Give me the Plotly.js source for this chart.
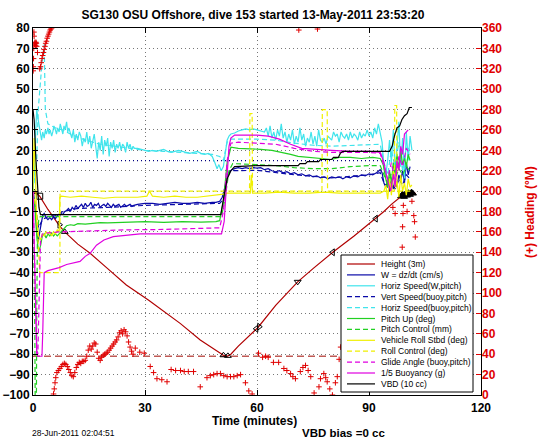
<!DOCTYPE html>
<html><head><meta charset="utf-8">
<script src="https://cdn.plot.ly/plotly-3.0.1.min.js"></script>
<style>html,body{margin:0;padding:0;background:#fff}#chart{width:546px;height:442px}</style>
</head><body><div id="chart"></div>
<script>
// ---------------- DATA (minutes vs value) ----------------
const xTicks = [0, 30, 60, 90, 120];
const legendNames = ['Height (3m)', 'W = dz/dt (cm/s)', 'Horiz Speed(W,pitch)', 'Vert Speed(buoy,pitch)',
  'Horiz Speed(buoy,pitch)', 'Pitch Up (deg)', 'Pitch Control (mm)', 'Vehicle Roll Stbd (deg)',
  'Roll Control (deg)', 'Glide Angle (buoy,pitch)', '1/5 Buoyancy (g)', 'VBD (10 cc)'];

const heightX = [0, 0.5, 1.8, 4, 7.1, 8.5, 12, 15.3, 20, 25, 30.9, 35, 39.5, 44.8, 48, 51, 52, 53, 55, 57.5, 60.2, 65, 70.9, 75, 80.3, 86, 91.8, 94, 96, 98, 99.5, 101, 102.5];
const heightY = [0, -0.5, -2.5, -9, -17, -20, -26, -30.5, -38, -46, -53.4, -59, -65, -73, -77, -80.5, -81, -80, -76, -71.5, -67, -56, -44.5, -38, -30, -22, -13.5, -10, -6.5, -3.5, -2.5, -1.5, -1];

const gcX = [0.3, 1.8, 7.1, 8.5, 51.0, 52.2, 59.8, 60.6, 70.9, 80.3, 91.8, 98.6, 99.0, 99.4, 99.8, 100.2, 100.6, 101.0, 101.4, 101.8];
const gcY = [-0.5, -2.5, -16.5, -20, -80.5, -80.8, -67.5, -66.5, -44.5, -30, -13.5, -2.5, -1.5, -2.8, -1.2, -2.2, -0.8, -1.8, -0.5, -1.2];

const wX = [0, 0.5, 1.0, 1.4, 1.8, 2.2, 2.6, 3.0, 3.5, 4.0,
  4.5, 5.0, 5.5, 6.0, 6.5, 7.0, 7.5, 8.0, 8.5, 9.0,
  9.5, 10, 10.5, 11, 11.5, 12, 12.5, 13, 13.5, 14,
  14.5, 15, 15.5, 16, 16.5, 17, 17.5, 18, 18.5, 19,
  19.5, 20, 20.5, 21, 21.5, 22, 22.5, 23, 23.5, 24,
  24.5, 25, 25.5, 26, 26.5, 27, 28, 30, 32, 34,
  36, 38, 40, 42, 44, 46, 48, 49, 50, 50.7,
  51.4, 52, 52.6, 53.3, 54, 55, 56, 57, 58, 59,
  60, 61, 62, 63, 64, 65, 66, 67, 68, 69,
  70, 71, 72, 73, 74, 75, 76, 77, 78, 79,
  80, 81, 82, 83, 84, 85, 86, 87, 88, 89,
  90, 91, 92, 93, 93.5, 94, 94.5, 95, 95.5, 96,
  96.5, 97, 97.5, 98, 98.5, 99, 99.5, 100, 100.5, 101];
const wY = [0, -6, -18, -25, -20, -15, -12, -11, -13, -14,
  -13, -14, -12.5, -13.5, -12, -12.5, -11, -11.5, -10, -9.5,
  -8.5, -10, -8, -9, -7, -8.5, -7.5, -6.5, -8, -6,
  -7.5, -7, -5.5, -8, -6.5, -7, -6, -8, -7, -6.5,
  -7.5, -6, -7, -8, -6.5, -7.5, -7, -6.5, -8, -7,
  -6.5, -7.5, -7, -6.5, -7.5, -7, -6.5, -6, -6, -6.5,
  -6, -5.5, -6, -6, -5.5, -6, -5.5, -5.5, -5, -3,
  2, 7, 9.5, 10.5, 11, 11.5, 11, 11.5, 11, 11.5,
  11.3, 11.5, 10.5, 11, 10, 9.5, 10, 9, 9.5, 8.5,
  9, 8, 8.5, 7.5, 8, 7, 7.5, 6.5, 7, 6,
  7, 6.5, 7, 6, 7, 6.5, 7.5, 7, 8, 7.5,
  8.5, 8, 9, 10.5, 9, 4, 2, 5, 0, 4,
  1, 6, 2, 8, 5, 10, 4, 14, 8, 12];

const hsWX = [0, 0.4, 0.7, 1.0, 1.3, 1.6, 2.0, 2.3, 2.6, 3.0,
  3.3, 3.6, 4.0, 4.3, 4.6, 5.0, 5.3, 5.6, 6.0, 6.3,
  6.6, 7.0, 7.3, 7.6, 8.0, 8.3, 8.6, 9.0, 9.3, 9.6,
  10.0, 10.4, 10.8, 11.2, 11.6, 12.0, 12.4, 12.8, 13.2, 13.6,
  14.0, 14.4, 14.8, 15.2, 15.6, 16.0, 16.4, 16.8, 17.2, 17.6,
  18.0, 18.4, 18.8, 19.2, 19.6, 20.0, 20.4, 20.8, 21.2, 21.6,
  22.0, 22.4, 22.8, 23.2, 23.6, 24.0, 24.4, 24.8, 25.2, 25.6,
  26.0, 26.4, 26.8, 27.2, 28, 29, 30, 31, 32, 33,
  34, 35, 36, 37, 38, 39, 40, 41, 42, 43,
  44, 45, 46, 47, 48, 48.7, 49.3, 49.8, 50.4, 51,
  51.5, 52, 52.5, 53, 54, 55, 56, 57, 58, 59,
  60, 61, 62, 62.5, 63, 63.5, 64, 64.5, 65, 65.5,
  66, 66.5, 67, 67.5, 68, 68.5, 69, 69.5, 70, 70.5,
  71, 71.5, 72, 72.5, 73, 73.5, 74, 74.5, 75, 75.5,
  76, 76.5, 77, 77.5, 78, 78.5, 79, 79.5, 80, 80.5,
  81, 81.5, 82, 82.5, 83, 83.5, 84, 84.5, 85, 85.5,
  86, 86.5, 87, 87.5, 88, 88.5, 89, 89.5, 90, 90.5,
  91, 91.5, 92, 92.5, 93, 93.5, 94, 94.5, 95, 95.5,
  96, 96.5, 97, 97.5, 98, 98.5, 99, 99.5, 100, 100.5,
  101, 101.5];
const hsWY = [0, 10, 28, 40, 36, 33, 27, 25, 29, 26,
  30, 28, 31, 28, 30, 27, 29, 32, 30, 28,
  31, 29, 33, 30, 28, 32, 30, 34, 29, 31,
  28, 26, 30, 24, 28, 25, 29, 27, 22, 26,
  24, 29, 23, 27, 21, 25, 28, 22, 16, 24,
  20, 27, 18, 25, 22, 26, 17, 24, 21, 25,
  19, 23, 21, 24, 20, 23, 22, 19, 24, 21,
  23, 20, 22, 21, 21, 20.5, 20, 19.5, 20, 19.5,
  20, 20.5, 19.5, 19, 19.5, 20, 19.5, 19, 18.5, 19,
  19.5, 18.5, 18, 18.5, 17, 14, 11, 13, 10, 12,
  19, 25, 27, 28, 28.5, 29.5, 30, 30.5, 30, 30.5,
  30, 29.5, 29, 31, 27, 32, 26, 29, 25, 30,
  27, 33, 26, 29, 24, 28, 25, 30, 23, 27,
  24, 31, 25, 28, 22, 26, 24, 29, 23, 27,
  22, 30, 25, 24, 26, 23, 27, 26, 25, 29,
  27, 28, 24, 29, 27, 26, 28, 25, 29, 26,
  28, 27, 25, 29, 26, 28, 27, 30, 27, 29,
  26, 31, 28, 33, 29, 24, 12, 8, 15, 25,
  14, 30, 10, 22, 34, 12, 26, 5, 29, 15,
  27, 20];

const vsX = [0, 0.8, 1.5, 2.5, 4, 6, 8, 12, 20, 30, 40, 50, 51, 52, 53, 60, 70, 80, 90, 93, 94, 95, 96, 97, 98, 99, 100, 101];
const vsY = [0, -10, -18, -14, -12.5, -12, -10, -8.5, -8, -7, -6.5, -6, -4, 8, 10, 10.2, 8, 6.5, 8, 9, 4, 2, 5, 1, 6, 3, 8, 6];

const hbX = [0, 1, 1.4, 2, 2.5, 3, 3.3, 4, 6, 8, 10, 14, 18, 22, 26, 30, 35, 40, 45, 48, 50, 51, 52, 53, 60, 65, 70, 75, 80, 85, 90, 93, 94, 95, 96, 97, 98, 99, 100, 101];
const hbY = [0, 15, 40, 55, 65, 72, 40, 33, 31, 30, 28, 25, 23, 22, 21, 20, 19.5, 19, 18.5, 18, 17, 15, 24, 25.5, 25.5, 25, 23.5, 22.5, 22, 22.5, 23, 23, 14, 8, 20, 12, 24, 10, 22, 20];

const pitchX = [0, 0.5, 1.0, 1.5, 2.0, 2.5, 3.0, 3.5, 4.0, 4.5, 5.0, 5.5, 6.0, 6.5, 7.0, 7.5, 8.0, 8.5, 9.0, 10, 11, 12, 14, 16, 18, 20, 25, 30, 35, 40, 45, 49, 50, 51, 52, 53, 55, 58, 61, 64, 67, 69, 71, 74, 77, 80, 82, 85, 88, 91, 93, 93.8, 94.5, 95, 95.5, 96, 96.5, 97, 97.5, 98, 98.5, 99, 99.5, 100, 100.5, 101];
const pitchY = [0, -8, -22, -30, -27, -22, -21, -23, -21, -22, -20.5, -22, -21, -22, -21, -20, -19, -18, -17, -16.5, -16.8, -16, -16.2, -15.8, -15.5, -15.6, -15.2, -15, -15.3, -15, -15.2, -15, -14.5, -5, 14, 21.5, 21, 20.8, 20.5, 20, 19, 18, 17, 16.5, 16, 15.5, 16.5, 16.5, 16, 16.5, 16, 13, 6, 2, 10, 4, 14, 8, 18, 11, 20, 13, 16, 12, 18, 15];

const pcX = [0, 0.3, 0.5, 0.6, 0.9, 1.0, 1.2, 1.6, 2.0, 50.5, 51.5, 52.5, 53.5, 60, 65, 70, 75, 80, 85, 90, 93, 94, 95, 96, 97, 98, 99, 100, 101];
const pcY = [0, -30, -70, -110, -110, -60, -20, -13, -12.5, -12.5, -3, 10, 13.5, 13, 12.5, 11.5, 11, 11, 12, 12.5, 12.5, 8, 4, 9, 6, 11, 8, 12, 10];

const rollX = [0, 0.3, 0.6, 1.0, 1.5, 2.0, 2.5, 3.0, 3.5, 4.0, 4.5, 5.0, 5.5, 6.0, 6.5, 7.0, 7.2, 7.6, 10, 13, 16, 19, 22, 25, 28, 30.5, 31.2, 32, 35, 38, 41, 44, 47, 50, 51, 52, 55, 58.2, 58.5, 58.8, 62, 66, 70, 74, 78, 82, 86, 90, 93, 94, 94.5, 95, 95.5, 96, 96.5, 97, 97.5, 98, 98.5, 99, 99.5, 100, 100.5, 101, 101.5];
const rollY = [0, 26, 12, -15, -22, -24, -21, -22, -20, -21, -20, -22, -20, -21, -19, -20, -3, -2.5, -3, -2.5, -3, -3.5, -3, -3, -3, -2.5, 0, -2.5, -3, -2.5, -3, -3, -2.5, -2, -1.5, -1, -1, -1, 8, -1, -1, -0.5, -1, -1, -0.5, -1, -1, -1, -1, 0, 3, -4, 6, -2, 10, 2, 5, -3, 8, 0, 4, -2, 6, 2, 3];

const rcX = [0, 1.0, 1.8, 7.2, 7.25, 58.0, 58.1, 58.7, 58.8, 77.4, 77.5, 78.8, 78.9, 96.8, 96.9, 97.4, 97.5, 101.5];
const rcY = [0, -10, -40, -40, 0, 0, 38, 38, 0, 0, 40, 40, 0, 0, 42, 42, 0, 0];

const glX = [0, 0.5, 1.0, 1.3, 1.6, 2.0, 2.5, 4, 7, 15, 25, 35, 45, 50, 51, 52, 53, 55, 60, 65, 70, 75, 80, 85, 90, 93, 94, 95, 96, 97, 98, 99, 100, 101];
const glY = [0, -40, -78, -80, -50, -25, -21, -20.5, -20, -19.5, -19, -18.8, -18.5, -18, -10, 15, 23.5, 24, 23.5, 23, 21, 19.5, 19, 19, 19, 18.5, 12, 6, 14, 4, 17, 12, 21, 18];

const buX = [0, 0.5, 1.0, 1.3, 2.4, 2.6, 2.8, 3.0, 4, 5, 7, 9, 11, 12.6, 14, 15.3, 17, 19, 21.5, 25, 28.7, 35, 45, 50.5, 51.2, 52, 52.5, 53, 54, 60, 63, 66, 69, 72, 75, 80, 85, 90, 93, 94, 95, 95.8, 96.5, 97, 97.5, 98, 98.5, 99, 99.5, 100, 100.5];
const buY = [0, -40, -80, -81, -81, -70, -45, -40, -39, -38.5, -37.5, -36, -35, -34.5, -32, -30.5, -26.5, -24, -22.3, -21.5, -21, -21, -21, -21, -15, 10, 22, 26, 27.5, 27.5, 27, 25.5, 23, 21, 20.5, 20, 19.5, 19.5, 19, 14, 5, 0, 8, 2, 15, 10, 22, 18, 28, 29, 30];

const vbdX = [0, 0.3, 0.8, 1.2, 1.6, 2.0, 50.3, 51, 52, 53, 54, 60, 71, 71.5, 73, 73.5, 76.5, 77, 80, 80.5, 81.8, 82.3, 83, 95.5, 96.2, 96.8, 97.5, 98.2, 98.8, 99.5, 100.2, 100.8, 101.5];
const vbdY = [40, 35, 15, 2, -8, -11.5, -11.5, -4, 6, 10, 12, 12.5, 12.5, 13.5, 13.5, 14.5, 14.5, 15.5, 15.5, 16.5, 16.5, 18.5, 19.5, 19.5, 22, 27, 31, 32, 35, 37, 38, 41, 41];

const bottomX = [0, 100];
const bottomY = [-81, -81];
const refX = [0, 97];
const refY = [15, 15];

// heading (degrees magnetic, right axis)
const headX = [0.05, 0.1, 0.15, 0.2, 0.25, 0.3, 0.4, 0.5, 0.6, 0.7,
  0.8, 0.9, 1.0, 1.2, 1.8, 2.0, 2.2, 2.4, 2.6, 2.8,
  3.0, 3.2, 3.4, 3.6, 3.8, 4.0, 4.2, 4.4, 4.6, 4.8,
  5.0, 5.5, 5.7, 5.9, 6.1, 6.4, 6.8, 7.2, 7.6, 8.0,
  8.4, 8.8, 9.2, 9.6, 10.0, 10.4, 10.8, 11.2, 11.6, 12.0,
  12.4, 12.8, 13.2, 13.6, 14.0, 14.4, 14.8, 15.2, 15.6, 16.0,
  16.4, 16.8, 17.2, 17.6, 18.0, 18.4, 18.8, 19.2, 19.6, 20.0,
  20.4, 20.8, 21.2, 21.6, 22.0, 22.4, 22.8, 23.2, 23.6, 24.0,
  24.4, 24.8, 25.2, 25.6, 26.0, 26.4, 26.8, 27.4, 28.6, 29.8,
  31.4, 32.3, 33.2, 34.5, 35.9, 37.0, 38.2, 39.5, 40.5, 41.6,
  43.0, 44.8, 46.6, 47.5, 48.4, 49.3, 50.2, 51.1, 52.0, 52.9,
  53.8, 54.7, 55.6, 56.9, 57.8, 58.7, 60.4, 61.5, 62.3, 63.0,
  64.4, 65.8, 67.2, 68.0, 69.0, 69.6, 70.3, 71.2, 71.6, 72.3,
  73.0, 73.7, 74.4, 75.3, 76.2, 76.6, 77.0, 77.9, 78.4, 78.8,
  79.5, 80.2, 81.0, 81.5, 82.0, 82.4, 83.3, 84.2, 85.1, 86.0,
  87.0, 88.0, 89.0, 90.0, 91.0, 92.0, 93.0, 94.0, 95.0, 96.4,
  97.0, 98.9, 99.0, 99.1, 99.2, 100.2, 101.5, 102.0, 102.2, 102.4];
const headY = [318, 322, 330, 340, 356, 352, 344, 346, 345, 343,
  346, 345, 342, 336, 320, 322, 326, 330, 333, 336,
  339, 342, 345, 347, 350, 352, 354, 356, 358, 359,
  360, 1, 6, 12, 17, 22, 24, 26, 28, 30,
  31, 30, 28, 25, 22, 19, 18, 22, 27, 30,
  32, 31, 33, 33, 34, 38, 44, 48, 45, 48,
  51, 50, 42, 36, 34, 37, 39, 40, 41, 42,
  44, 46, 48, 50, 52, 54, 57, 61, 63, 60,
  64, 62, 58, 52, 47, 43, 40, 46, 42, 41,
  28, 22, 16, 15, 13, 25, 24, 24, 23, 23,
  23, 8, 17, 19, 20, 21, 21, 19, 18, 18,
  18, 19, 20, 12, 4, 1, 41, 37, 38, 37,
  32, 32, 26, 24, 21, 18, 16, 358, 23, 27,
  29, 24, 18, 2, 359, 8, 16, 21, 17, 13,
  6, 0, 12, 18, 35, 47, 46, 34, 25, 23,
  30, 35, 28, 22, 25, 30, 28, 35, 40, 184,
  178, 145, 165, 178, 186, 180, 190, 176, 170, 155];

// ---------------- STYLE ----------------
const FONT = '"Liberation Sans", Arial, Helvetica, sans-serif';
const RED = '#e00000';
const styles = [
  {color: '#b00000', dash: 'solid'},
  {color: '#0a0aa8', dash: 'solid'},
  {color: '#40e4ec', dash: 'solid'},
  {color: '#0a0aa8', dash: '5px,3px'},
  {color: '#40e4ec', dash: '5px,3px'},
  {color: '#22d022', dash: 'solid'},
  {color: '#22d022', dash: '5px,3px'},
  {color: '#f0f000', dash: 'solid'},
  {color: '#f0f000', dash: '5px,3px'},
  {color: '#e000e0', dash: '5px,3px'},
  {color: '#e000e0', dash: 'solid'},
  {color: '#000000', dash: 'solid'}
];
const seriesData = [
  [heightX, heightY], [wX, wY], [hsWX, hsWY], [vsX, vsY], [hbX, hbY], [pitchX, pitchY],
  [pcX, pcY], [rollX, rollY], [rcX, rcY], [glX, glY], [buX, buY], [vbdX, vbdY]
];
const gcSymbols = ['triangle-up-open', 'square-open', 'triangle-right-open', 'triangle-up-open',
  'triangle-up-open', 'triangle-up-open', 'triangle-left-open', 'triangle-right-open', 'triangle-down-open',
  'triangle-left-open', 'triangle-left-open', 'triangle-up', 'triangle-up', 'triangle-up', 'triangle-up',
  'triangle-up', 'triangle-up', 'triangle-up', 'triangle-up', 'triangle-up'];

const traces = [];
traces.push({x: bottomX, y: bottomY, mode: 'lines', line: {color: '#c05a55', width: 1.6, dash: '7px,4px'}, hoverinfo: 'skip'});
traces.push({x: refX, y: refY, mode: 'lines', line: {color: '#000080', width: 1.2, dash: '1px,3px'}, hoverinfo: 'skip'});
seriesData.forEach((d, i) => {
  traces.push({x: d[0], y: d[1], name: legendNames[i], mode: 'lines',
    line: {color: styles[i].color, width: 1.2, dash: styles[i].dash}});
  if (i === 0) {
    traces.push({x: gcX, y: gcY, mode: 'markers',
      marker: {symbol: gcSymbols, size: 6, color: '#000', line: {color: '#000', width: 1}}});
  }
});
traces.push({x: headX, y: headY, yaxis: 'y2', mode: 'markers', name: 'Heading',
  marker: {symbol: 'cross-thin', size: 4, color: RED, line: {color: RED, width: 1}}});

// paper-coordinate helpers for the drawn legend / texts
const PX = px => (px - 33) / 448;
const PY = py => (395 - py) / 367;

const shapes = [];
const annotations = [];
shapes.push({type: 'rect', xref: 'paper', yref: 'paper', x0: PX(341), x1: PX(473), y0: PY(392), y1: PY(255),
  fillcolor: '#ffffff', line: {color: '#000', width: 1}, layer: 'above'});
legendNames.forEach((nm, i) => {
  const cy = 264 + i * 10.9;
  shapes.push({type: 'line', xref: 'paper', yref: 'paper', x0: PX(347), x1: PX(375), y0: PY(cy), y1: PY(cy),
    line: {color: styles[i].color, width: 1.2, dash: styles[i].dash}, layer: 'above'});
  annotations.push({xref: 'paper', yref: 'paper', x: PX(379), y: PY(cy), xanchor: 'left', yanchor: 'middle',
    text: nm, showarrow: false, font: {family: FONT, size: 8.5, color: '#000'}});
});
annotations.push({xref: 'paper', yref: 'paper', x: PX(254), y: PY(421), xanchor: 'center', yanchor: 'middle',
  text: 'Time (minutes)', showarrow: false, font: {family: FONT, size: 12, weight: 'bold', color: '#000'}});
annotations.push({xref: 'paper', yref: 'paper', x: PX(530), y: PY(212), xanchor: 'center', yanchor: 'middle',
  text: '(+) Heading (°M)', textangle: -90, showarrow: false, font: {family: FONT, size: 12, weight: 'bold', color: RED}});
annotations.push({xref: 'paper', yref: 'paper', x: PX(30), y: PY(433), xanchor: 'left', yanchor: 'middle',
  text: '28-Jun-2011 02:04:51', showarrow: false, font: {family: FONT, size: 8.5, color: '#000'}});
annotations.push({xref: 'paper', yref: 'paper', x: PX(300), y: PY(433), xanchor: 'left', yanchor: 'middle',
  text: 'VBD bias =0 cc', showarrow: false, font: {family: FONT, size: 11.5, weight: 'bold', color: '#000'}});

const axisCommon = {ticks: 'inside', ticklen: 5, tickcolor: '#000', showline: true, linecolor: '#000', linewidth: 1,
  mirror: 'ticks', showgrid: true, gridcolor: '#777', griddash: '1px,3px', gridwidth: 1, zeroline: false,
  tickfont: {family: FONT, size: 12, weight: 'bold', color: '#000'}};

const layout = {
  width: 546, height: 442, margin: {l: 33, r: 65, t: 28, b: 47, pad: 0},
  paper_bgcolor: '#fff', plot_bgcolor: '#fff', showlegend: false,
  font: {family: FONT, color: '#000'},
  title: {text: 'SG130 OSU Offshore, dive 153 started 13-May-2011 23:53:20',
    font: {family: FONT, size: 12, weight: 'bold', color: '#000'},
    xref: 'paper', x: 0.491, xanchor: 'center', yref: 'container', y: 1 - 15 / 442, yanchor: 'middle'},
  xaxis: Object.assign({}, axisCommon, {range: [0, 120], tickmode: 'array', tickvals: xTicks, ticklabelstandoff: 2}),
  yaxis: Object.assign({}, axisCommon, {range: [-100, 80], tick0: 0, dtick: 10}),
  yaxis2: {range: [0, 360], tick0: 0, dtick: 20, overlaying: 'y', side: 'right', ticks: 'inside', ticklen: 5,
    tickcolor: RED, showgrid: false, zeroline: false, showline: false,
    tickfont: {family: FONT, size: 12, weight: 'bold', color: RED}},
  shapes: shapes, annotations: annotations
};

Plotly.newPlot('chart', traces, layout, {staticPlot: true, displayModeBar: false});
</script></body></html>
